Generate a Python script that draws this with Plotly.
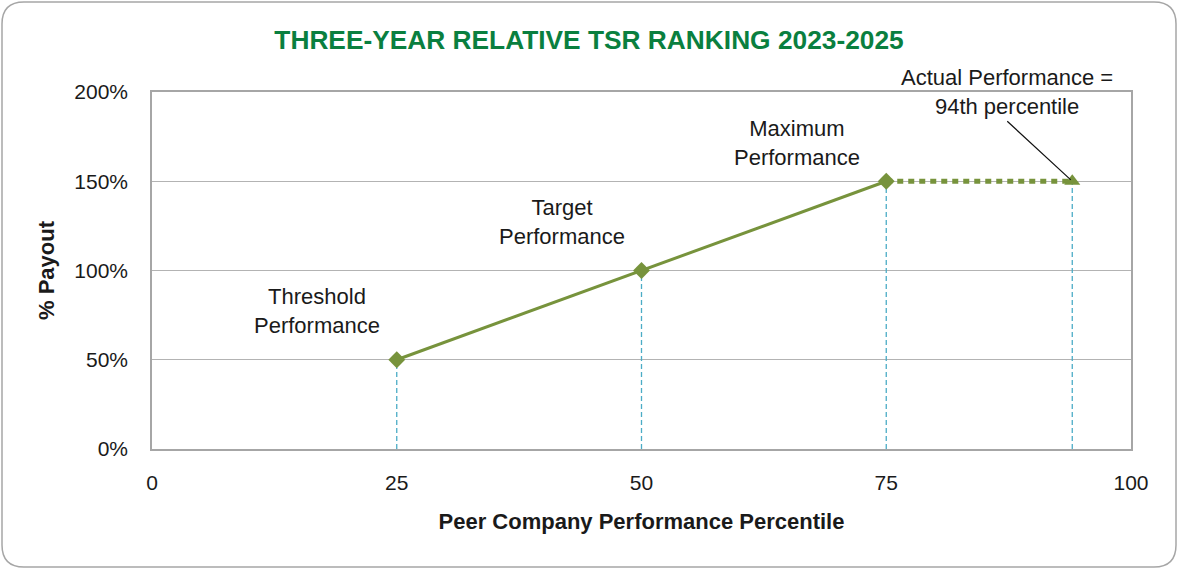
import plotly.graph_objects as go

# Data
levels = ["Threshold<br>Performance", "Target<br>Performance", "Maximum<br>Performance"]
percentiles = [25, 50, 75]
payouts = [50, 100, 150]
actual_percentile = [75, 94]
actual_payout = [150, 150]
actual_label = "Actual Performance =<br>94th percentile"
x_ticks = [0, 25, 50, 75, 100]
y_ticks = [0, 50, 100, 150, 200]
y_tick_labels = ["0%", "50%", "100%", "150%", "200%"]

GREEN = "#77933c"
BLUE = "#4bacc6"
FONT = "Liberation Sans Narrow, Arial Narrow, Liberation Sans, Arial"

fig = go.Figure()

# vertical dashed drop lines
for xv, yv in zip(percentiles + [actual_percentile[-1]], payouts + [actual_payout[-1]]):
    fig.add_trace(go.Scatter(x=[xv, xv], y=[0, yv], mode="lines",
                             line=dict(color=BLUE, width=1.3, dash="5px,3px"),
                             hoverinfo="skip", showlegend=False))

# dotted line to actual
fig.add_trace(go.Scatter(x=actual_percentile, y=actual_payout, mode="lines",
                         line=dict(color=GREEN, width=5, dash="6px,5px"),
                         showlegend=False))
fig.add_trace(go.Scatter(x=[actual_percentile[-1]], y=[actual_payout[-1]], mode="markers",
                         marker=dict(symbol="triangle-up", size=14, color=GREEN),
                         showlegend=False))

# main payout line
fig.add_trace(go.Scatter(x=percentiles, y=payouts, mode="lines+markers",
                         line=dict(color=GREEN, width=3),
                         marker=dict(symbol="diamond", size=13, color=GREEN),
                         showlegend=False))

# level labels
label_offsets = [(-8.15, 27.3), (-8.1, 27.2), (-9.1, 21.4)]
for lab, xv, yv, (dx, dy) in zip(levels, percentiles, payouts, label_offsets):
    fig.add_annotation(x=xv + dx, y=yv + dy, text=lab, showarrow=False,
                       font=dict(family=FONT, size=22, color="#1a1a1a"),
                       align="center", yanchor="middle", xanchor="center")

# actual annotation with arrow
fig.add_annotation(x=actual_percentile[-1], y=actual_payout[-1], text=actual_label,
                   showarrow=True, arrowhead=0, arrowwidth=1.2, arrowcolor="#111111",
                   ax=-65, ay=-60, axref="pixel", ayref="pixel",
                   font=dict(family=FONT, size=22, color="#1a1a1a"),
                   align="center", yanchor="bottom", standoff=2)

# outer rounded border (paper coordinates)
W, H = 1178, 570
L, R, T, B = 152, 47, 92, 121
pw, ph = W - L - R, H - T - B
def px(x):
    return (x - L) / pw
def py(y):
    return (H - B - y) / ph
r = 22
x0, x1, y0, y1 = 2, 1176, 2, 567
path = (f"M {px(x0 + r)},{py(y0)} L {px(x1 - r)},{py(y0)} "
        f"Q {px(x1)},{py(y0)} {px(x1)},{py(y0 + r)} "
        f"L {px(x1)},{py(y1 - r)} Q {px(x1)},{py(y1)} {px(x1 - r)},{py(y1)} "
        f"L {px(x0 + r)},{py(y1)} Q {px(x0)},{py(y1)} {px(x0)},{py(y1 - r)} "
        f"L {px(x0)},{py(y0 + r)} Q {px(x0)},{py(y0)} {px(x0 + r)},{py(y0)} Z")
fig.add_shape(type="path", path=path, xref="paper", yref="paper",
              line=dict(color="#a6a6a6", width=1.5), layer="below")

fig.update_layout(
    width=W, height=H,
    margin=dict(l=L, r=R, t=T, b=B, autoexpand=False),
    paper_bgcolor="white", plot_bgcolor="white",
    title=dict(text="<b>THREE-YEAR RELATIVE TSR RANKING 2023-2025</b>",
               x=589 / W, xref="container", xanchor="center", y=1 - 40 / H, yanchor="middle",
               font=dict(family=FONT, size=26.3, color="#0a7f3f")),
    xaxis=dict(range=[0, 100], tickvals=x_ticks, ticks="", showgrid=False,
               showline=True, linecolor="#a6a6a6", linewidth=1.5, mirror=True,
               zeroline=False, ticklabelstandoff=14,
               tickfont=dict(family=FONT, size=21, color="#1a1a1a"),
               title=dict(text="<b>Peer Company Performance Percentile</b>",
                          font=dict(family=FONT, size=22, color="#1a1a1a"), standoff=21)),
    yaxis=dict(range=[0, 200], tickvals=y_ticks, ticktext=y_tick_labels, ticks="",
               showgrid=True, gridcolor="#b3b3b3", gridwidth=1.3,
               showline=True, linecolor="#a6a6a6", linewidth=1.5, mirror=True,
               zeroline=False, ticklabelstandoff=18,
               tickfont=dict(family=FONT, size=21, color="#1a1a1a"),
               title=dict(text="<b>% Payout</b>",
                          font=dict(family=FONT, size=22, color="#1a1a1a"), standoff=14)),
)

fig.write_html("out.html", config={"displayModeBar": False},
               post_script="document.body.style.margin='0';")
